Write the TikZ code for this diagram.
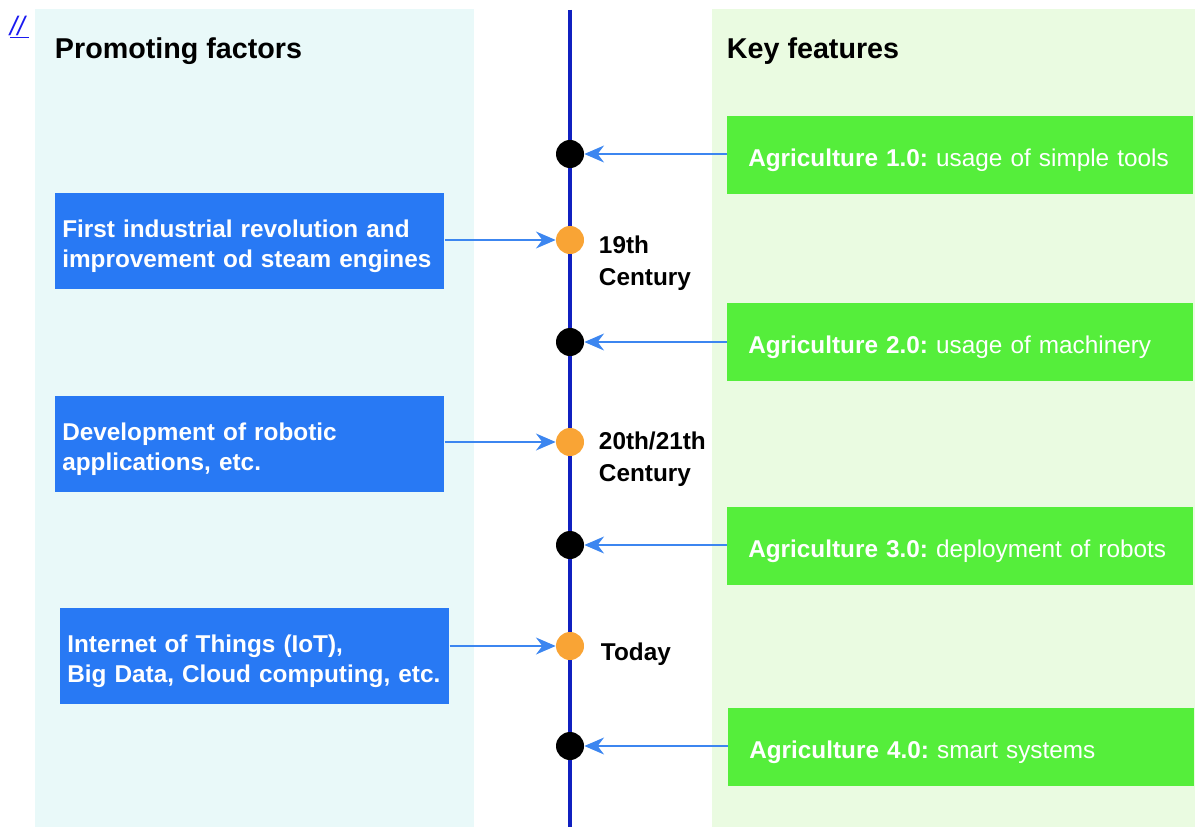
\documentclass[tikz,border=0pt]{standalone}
\usepackage{fontspec}
\setmainfont{Liberation Sans}
\usetikzlibrary{arrows.meta,positioning}

\definecolor{paneleft}{HTML}{E9F9F9}
\definecolor{paneright}{HTML}{EAFBE1}
\definecolor{factorblue}{HTML}{2879F4}
\definecolor{featuregreen}{HTML}{55EE3B}
\definecolor{arrowblue}{HTML}{3C86F0}
\definecolor{axisblue}{HTML}{1020C0}
\definecolor{dotorange}{HTML}{F9A435}
\definecolor{linkblue}{HTML}{1A1AF0}

\begin{document}
\begin{tikzpicture}[x=0.025cm,y=-0.025cm,>={Stealth[length=14pt,width=12pt,inset=4.5pt]},
        factor/.style={fill=factorblue,text=white,anchor=north west,inner xsep=0.175cm,
          text width=9.375cm,minimum height=2.4cm,align=left,
          font=\fontsize{17.3}{21.3}\selectfont\bfseries\frenchspacing,
          execute at begin node={\rule{0pt}{20pt}}},
        feature/.style={fill=featuregreen,text=white,anchor=north west,inner xsep=0.525cm,
          text width=10.6cm,minimum height=1.95cm,align=left,
          font=\fontsize{17.3}{21.3}\selectfont\frenchspacing,
          execute at begin node={\rule{0pt}{20pt}}},
        era/.style={circle,fill=black,minimum size=0.7cm,inner sep=0pt},
        period/.style={circle,fill=dotorange,minimum size=0.7cm,inner sep=0pt},
        when/.style={anchor=west,align=left,font=\fontsize{17.3}{22.8}\selectfont\bfseries},
        head/.style={anchor=west,font=\fontsize{20.4}{24}\selectfont\bfseries},
        link/.style={->,draw=arrowblue,line width=1.4pt}]

  \useasboundingbox (0,0) rectangle (1195,827);

  % background panels
  \fill[paneleft] (35,9) rectangle (474,827);
  \fill[paneright] (712,9) rectangle (1195,827);

  \node[anchor=west,text=linkblue,font=\fontsize{19}{22}\selectfont\itshape] (mark) at (5,27) {\underline{//\,}};

  \node[head] (hleft) at (50,51) {Promoting factors};
  \node[head] (hright) at (722,51) {Key features};

  % time axis
  \coordinate (top) at (570,10);
  \coordinate (bot) at (570,827);
  \draw[axisblue,line width=3pt] (top) -- (bot);

  \node[era] (k1) at (570,154) {};
  \node[period] (t1) at (570,240) {};
  \node[era] (k2) at (570,342) {};
  \node[period] (t2) at (570,442) {};
  \node[era] (k3) at (570,545) {};
  \node[period] (t3) at (570,646) {};
  \node[era] (k4) at (570,746) {};

  \node[when] (w1) at (594,263) {19th\\Century};
  \node[when] (w2) at (594,459) {20th/21th\\Century};
  \node[when] (w3) at (596,654) {Today};

  % promoting factors
  \node[factor] (f1) at (55,193) {First industrial revolution and\\improvement od steam engines};
  \node[factor] (f2) at (55,396) {Development of robotic\\applications, etc.};
  \node[factor] (f3) at (60,608) {Internet of Things (IoT),\\Big Data, Cloud computing, etc.};

  % key features
  \node[feature] (g1) at (727,116) {\textbf{Agriculture 1.0:} usage of simple tools};
  \node[feature] (g2) at (727,303) {\textbf{Agriculture 2.0:} usage of machinery};
  \node[feature] (g3) at (727,507) {\textbf{Agriculture 3.0:} deployment of robots};
  \node[feature] (g4) at (728,708) {\textbf{Agriculture 4.0:} smart systems};

  \path[every edge/.style=link]
        (f1.east |- t1) edge (t1)
        (f2.east |- t2) edge (t2)
        (f3.east |- t3) edge (t3)
        (g1.west |- k1) edge (k1)
        (g2.west |- k2) edge (k2)
        (g3.west |- k3) edge (k3)
        (g4.west |- k4) edge (k4);

\end{tikzpicture}
\end{document}
